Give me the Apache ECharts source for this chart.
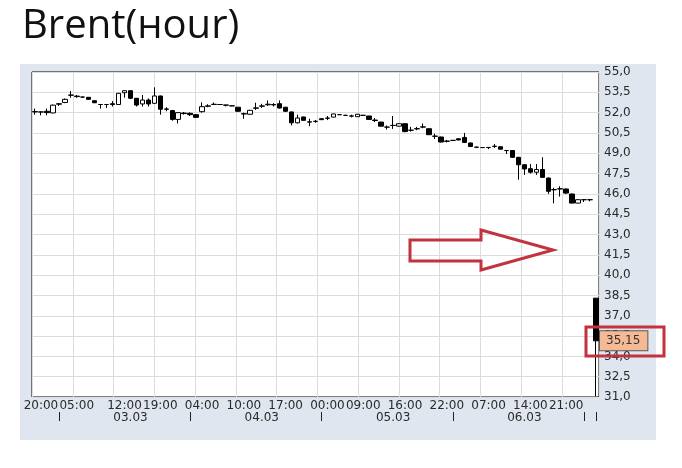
<!DOCTYPE html>
<html>
<head>
<meta charset="utf-8">
<script src="https://cdn.jsdelivr.net/npm/echarts@6/dist/echarts.min.js"></script>
<style>
html,body{margin:0;padding:0;background:#fff;}
#chart{width:682px;height:468px;}
</style>
</head>
<body>
<div id="chart"></div>
<script>
// ---- data (hourly Brent candles) ----
const opens = [52.05,52.05,52.10,51.98,52.62,52.75,53.28,53.22,53.15,53.13,
  52.88,52.60,52.60,52.66,52.60,53.47,53.62,53.06,52.64,52.93,
  52.69,53.23,52.27,52.15,51.50,51.93,51.95,51.85,52.07,52.47,
  52.60,52.60,52.56,52.50,52.40,51.92,51.88,52.32,52.47,52.58,
  52.60,52.66,52.40,52.05,51.25,51.68,51.32,51.35,51.55,51.58,
  51.67,51.85,51.80,51.74,51.70,51.80,51.75,51.45,51.30,50.93,
  51.05,51.00,51.18,50.70,50.80,50.93,50.81,50.25,50.20,49.88,
  49.95,50.07,50.17,49.76,49.44,49.42,49.43,49.50,49.48,49.20,
  49.20,48.70,48.15,47.86,47.60,47.80,47.17,46.30,46.36,46.36,
  45.99,45.32,45.57,45.57,38.30];
const closes = [52.08,52.05,52.00,52.55,52.66,52.98,53.30,53.18,53.15,52.98,
  52.73,52.60,52.60,52.60,53.43,53.62,53.06,52.56,52.93,52.64,
  53.23,52.25,52.25,51.50,52.00,51.97,51.85,51.65,52.44,52.50,
  52.62,52.60,52.55,52.50,52.10,51.90,52.17,52.35,52.50,52.62,
  52.57,52.34,52.10,51.25,51.60,51.43,51.30,51.36,51.48,51.60,
  51.90,51.85,51.80,51.76,51.88,51.80,51.50,51.42,51.00,50.93,
  51.06,51.18,50.60,50.70,50.82,50.95,50.37,50.27,49.83,49.90,
  49.95,49.98,49.80,49.50,49.45,49.42,49.42,49.52,49.30,49.20,
  48.70,48.15,47.84,47.60,47.80,47.22,46.19,46.32,46.38,46.06,
  45.32,45.57,45.57,45.57,35.15];
const lows = [51.85,51.80,51.80,51.95,52.50,52.70,53.10,53.10,53.10,52.95,
  52.70,52.30,52.35,52.45,52.58,53.10,53.00,52.45,52.45,52.45,
  52.65,51.85,52.10,51.40,51.20,51.85,51.75,51.60,52.00,52.40,
  52.60,52.58,52.45,52.48,52.05,51.55,51.85,52.20,52.35,52.50,
  52.45,52.30,52.05,51.06,51.20,51.40,51.00,51.25,51.45,51.45,
  51.65,51.83,51.78,51.65,51.68,51.78,51.48,51.30,50.98,50.75,
  50.80,50.98,50.55,50.60,50.70,50.85,50.35,50.05,49.80,49.80,
  49.93,49.96,49.75,49.45,49.38,49.40,49.30,49.40,49.28,48.95,
  48.65,47.05,47.40,47.50,47.40,47.20,46.00,45.30,45.80,46.00,
  45.30,45.30,45.40,45.45,31.05];
const highs = [52.30,52.07,52.30,52.60,52.70,53.05,53.60,53.30,53.18,53.15,
  52.90,52.62,52.62,52.85,53.45,53.64,53.65,53.08,53.30,53.05,
  53.87,53.25,52.40,52.20,52.02,52.05,52.02,51.88,52.76,52.62,
  52.75,52.62,52.58,52.52,52.42,52.00,52.20,52.73,52.65,52.90,
  52.70,52.90,52.42,52.07,51.85,51.70,51.55,51.45,51.57,51.75,
  51.92,51.88,51.83,51.85,51.90,51.83,51.77,51.60,51.32,51.05,
  51.75,51.20,51.20,50.95,50.95,51.20,50.85,50.45,50.22,49.98,
  49.97,50.10,50.50,49.78,49.50,49.44,49.44,49.68,49.50,49.22,
  49.22,48.72,48.17,48.20,48.20,48.70,47.20,46.45,46.56,46.40,
  46.02,45.60,45.58,45.58,38.30];
const lastPrice = 35.15;
const lastPriceLabel = '35,15';

// ---- axis labels ----
const hourLabels = ['20:00','05:00','12:00','19:00','04:00','10:00','17:00','00:00','09:00','16:00','22:00','07:00','14:00','21:00'];
const hourLabelBars = [1,7,15,21,28,35,42,49,55,62,69,76,83,89];
const dayLabels = ['03.03','04.03','05.03','06.03'];
const dayLabelBars = [16,38,60,82];
const dayStartBars = [4,26,48,70,92,94];
const yMin = 31.0, yMax = 55.0, yStep = 1.5;
const titleText = 'Brent(нour)';

// ---- build ----
const barIdx = opens.map((_, i) => String(i));
const candles = opens.map((o, i) => [o, closes[i], lows[i], highs[i]]);

const FONT = 'DejaVu Sans';
const TXT = '#2a2a2a';
const GRIDC = '#dcdcdc';
const RED = '#c2333f';

const G = {left: 32, top: 72, width: 567, height: 325};

const chart = echarts.init(document.getElementById('chart'), null, {renderer: 'canvas'});
chart.setOption({
  animation: false,
  backgroundColor: '#ffffff',
  title: {
    text: titleText, left: 17, top: 2,
    textStyle: {fontFamily: 'Open Sans', fontSize: 40, fontWeight: 'normal', color: '#111'}
  },
  grid: Object.assign({show: true, backgroundColor: '#ffffff', borderColor: '#000', borderWidth: 1, containLabel: false, outerBoundsMode: 'none'}, G),
  xAxis: [
    {
      type: 'category', data: barIdx, position: 'bottom', gridIndex: 0,
      axisLine: {show: false}, axisTick: {show: false}, splitLine: {show: false},
      axisLabel: {
        interval: (i) => hourLabelBars.indexOf(i) >= 0,
        formatter: (v, i) => { const k = hourLabelBars.indexOf(Number(v)); return k >= 0 ? hourLabels[k] : ''; },
        fontFamily: FONT, fontSize: 12, color: TXT, margin: 3, hideOverlap: false
      }
    },
    {
      type: 'category', data: barIdx, position: 'bottom', gridIndex: 0, offset: 15,
      axisLine: {show: false},
      axisTick: {show: true, alignWithLabel: true, length: 9, interval: (i) => dayStartBars.indexOf(i) >= 0, lineStyle: {color: '#222', width: 1}},
      splitLine: {show: false},
      axisLabel: {
        interval: (i) => dayLabelBars.indexOf(i) >= 0,
        formatter: (v) => { const k = dayLabelBars.indexOf(Number(v)); return k >= 0 ? dayLabels[k] : ''; },
        fontFamily: FONT, fontSize: 12, color: TXT, margin: 0, hideOverlap: false
      }
    },
    {
      type: 'value', position: 'top', gridIndex: 0, min: 0, max: 95, interval: 6.83,
      axisLine: {show: false}, axisTick: {show: false}, axisLabel: {show: false},
      splitLine: {show: true, lineStyle: {color: GRIDC, width: 1}}
    }
  ],
  yAxis: [
    {
      type: 'value', position: 'left', min: yMin, max: yMax, show: false
    },
    {
      type: 'value', position: 'right', min: 0, max: yMax - yMin, interval: yStep,
      axisLine: {show: false}, axisTick: {show: false},
      splitLine: {show: true, lineStyle: {color: GRIDC, width: 1}},
      axisLabel: {
        formatter: (v) => (v + yMin).toFixed(1).replace('.', ','),
        fontFamily: FONT, fontSize: 12, color: TXT, margin: 5
      }
    }
  ],
  series: [{
    type: 'candlestick', xAxisIndex: 0, yAxisIndex: 0,
    data: candles, barWidth: 5,
    itemStyle: {color: '#ffffff', color0: '#000000', borderColor: '#000000', borderColor0: '#000000', borderColorDoji: '#000000', borderWidth: 1},
    markLine: {
      silent: true, symbol: ['none', 'none'], animation: false,
      lineStyle: {color: 'rgba(0,0,0,0)', width: 1, type: 'solid'},
      data: [{yAxis: lastPrice}],
      label: {
        show: true, position: 'end', formatter: lastPriceLabel, distance: 1,
        backgroundColor: '#f5b996', borderColor: '#5a5a5a', borderWidth: 1,
        padding: [4, 7, 3, 6], color: '#333', fontFamily: FONT, fontSize: 12
      },
      emphasis: {disabled: true}
    }
  }],
  graphic: [
    {type: 'rect', z: -10, silent: true, shape: {x: 20, y: 64, width: 636, height: 376}, style: {fill: '#e0e6ef'}},
    {type: 'rect', z: 100, silent: true, shape: {x: 586, y: 327, width: 78, height: 29}, style: {fill: 'none', stroke: RED, lineWidth: 3}},
    {type: 'polygon', z: 100, silent: true,
      shape: {points: [[410, 240], [481, 240], [481, 230], [553, 250], [481, 270], [481, 261], [410, 261]]},
      style: {fill: 'none', stroke: RED, lineWidth: 3, lineJoin: 'miter'}}
  ]
});
</script>
</body>
</html>
